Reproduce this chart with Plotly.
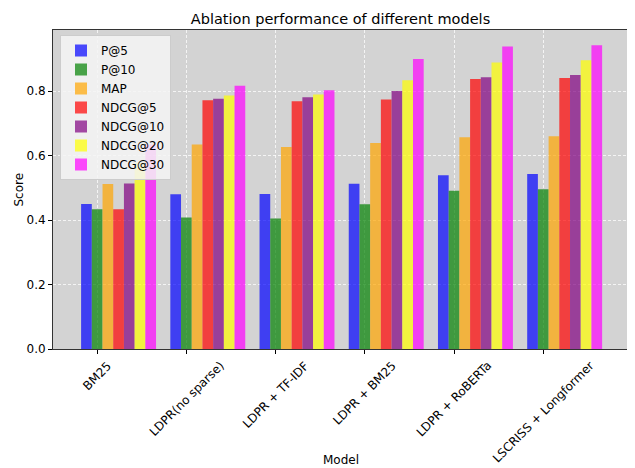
import plotly.graph_objects as go

models = ["BM25", "LDPR(no sparse)", "LDPR + TF-IDF", "LDPR + BM25", "LDPR + RoBERTa", "LSCRISS + Longformer"]
metrics = ["P@5", "P@10", "MAP", "NDCG@5", "NDCG@10", "NDCG@20", "NDCG@30"]
p5 = [0.450, 0.480, 0.481, 0.513, 0.539, 0.543]
p10 = [0.434, 0.408, 0.405, 0.449, 0.491, 0.496]
map_ = [0.512, 0.635, 0.627, 0.639, 0.657, 0.660]
ndcg5 = [0.434, 0.772, 0.769, 0.774, 0.838, 0.841]
ndcg10 = [0.514, 0.777, 0.781, 0.801, 0.843, 0.850]
ndcg20 = [0.578, 0.787, 0.790, 0.834, 0.889, 0.896]
ndcg30 = [0.635, 0.817, 0.803, 0.900, 0.939, 0.943]
series = [p5, p10, map_, ndcg5, ndcg10, ndcg20, ndcg30]
colors = ["rgba(0,0,255,0.7)", "rgba(0,128,0,0.7)", "rgba(255,165,0,0.7)", "rgba(255,0,0,0.7)",
          "rgba(128,0,128,0.7)", "rgba(255,255,0,0.7)", "rgba(255,0,255,0.7)"]

width = 0.12
idx = list(range(len(models)))
tick_pos = [k + width for k in idx]
font = "DejaVu Sans"

# The page body adds an 8px offset, so the figure is drawn 8px smaller.
OFF = 8
W, H = 635 - OFF, 468 - OFF
L, R, T, B = 53 - OFF, 7, 30 - OFF, 119
pw = W - L - R
ph = H - T - B

fig = go.Figure()
for i, (name, vals, c) in enumerate(zip(metrics, series, colors)):
    fig.add_trace(go.Bar(
        x=idx, y=vals, name=name, width=width,
        offset=i * width - width / 2,
        marker=dict(color=c, line=dict(width=0)),
    ))

annotations = []
for pos, label in zip(tick_pos, models):
    annotations.append(dict(
        x=pos, xref="x", y=0, yref="paper", yshift=-7,
        text=label, textangle=-45, showarrow=False,
        xanchor="center", yanchor="top",
        font=dict(family=font, size=12, color="black"),
    ))
annotations.append(dict(
    x=0.5, xref="paper", y=-((460 - OFF) - (T + ph)) / ph, yref="paper", yanchor="middle",
    text="Model", showarrow=False, font=dict(family=font, size=12, color="black"),
))
annotations.append(dict(
    x=((18 - OFF) - L) / pw, xref="paper", y=0.5, yref="paper",
    text="Score", textangle=-90, showarrow=False, xanchor="center", yanchor="middle",
    font=dict(family=font, size=12, color="black"),
))

fig.update_layout(
    width=W, height=H,
    margin=dict(l=L, r=R, t=T, b=B, autoexpand=False),
    barmode="overlay",
    plot_bgcolor="lightgray", paper_bgcolor="white",
    font=dict(family=font, size=12, color="black"),
    title=dict(text="Ablation performance of different models", x=0.5, xref="paper",
               y=1 - (19 - OFF) / H, yanchor="middle", font=dict(size=14.5, family=font)),
    legend=dict(x=7 / pw, y=1 - 5 / ph, xanchor="left", yanchor="top",
                bgcolor="rgba(245,245,245,0.85)", bordercolor="#cccccc", borderwidth=1,
                font=dict(size=12, family=font), tracegroupgap=0),
    showlegend=True,
    annotations=annotations,
)
grid = dict(showgrid=True, gridcolor="rgba(255,255,255,0.75)", griddash="3px,2px", gridwidth=1)
fig.update_xaxes(
    range=[-0.375, 6.07], tickvals=tick_pos, showticklabels=False,
    ticks="outside", ticklen=4, tickcolor="black", automargin=False,
    showline=True, linecolor="#333333", linewidth=1, mirror=True, zeroline=False, **grid,
)
fig.update_yaxes(
    range=[0, 0.99], tickvals=[0, 0.2, 0.4, 0.6, 0.8], ticktext=["0.0", "0.2", "0.4", "0.6", "0.8"],
    ticks="outside", ticklen=4, tickcolor="black", automargin=False,
    tickfont=dict(size=12, family=font),
    showline=True, linecolor="#333333", linewidth=1, mirror=True, zeroline=False, **grid,
)
fig.write_html("out.html")
